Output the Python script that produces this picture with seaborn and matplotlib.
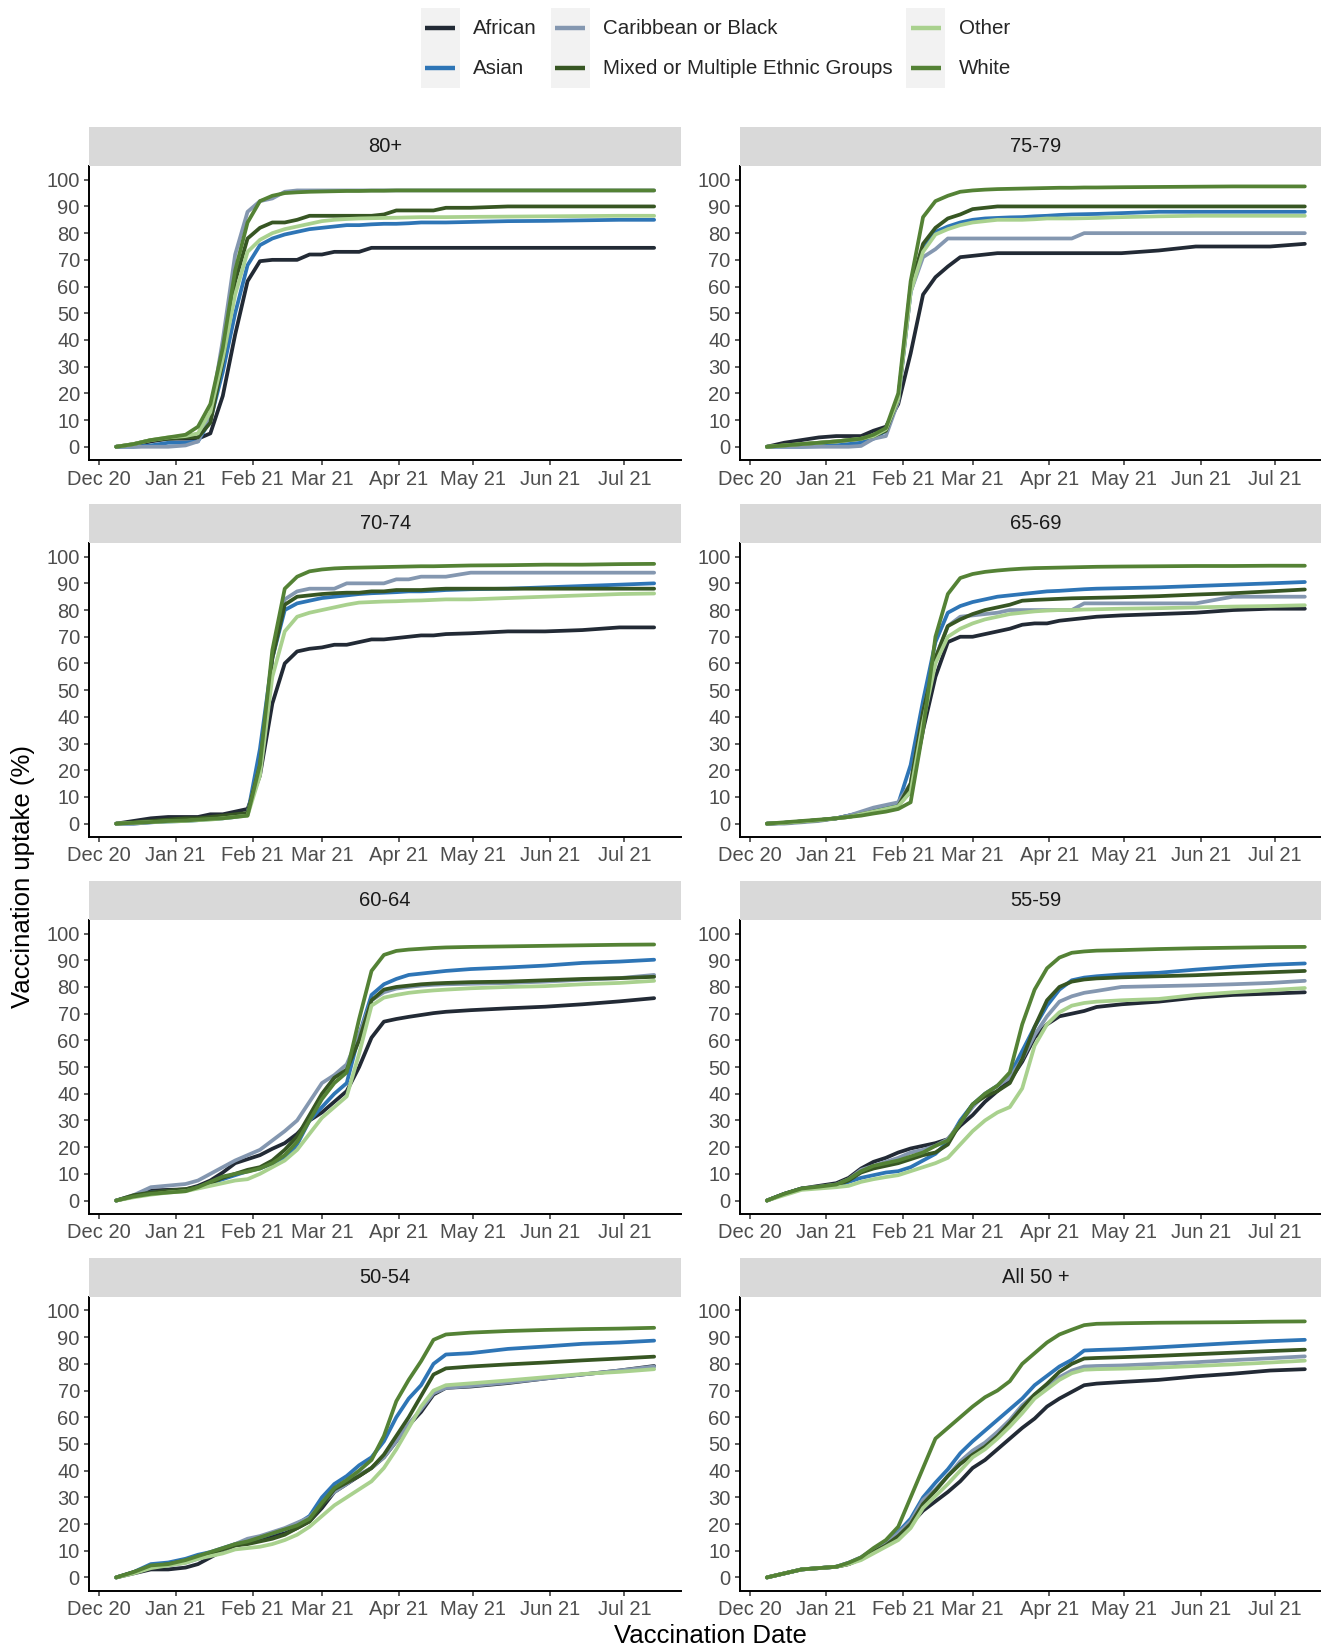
import numpy as np
import pandas as pd
import matplotlib
matplotlib.use("Agg")
import matplotlib.pyplot as plt
import matplotlib.dates as mdates
import seaborn as sns
from matplotlib.legend_handler import HandlerBase
from matplotlib.patches import Rectangle
from matplotlib.lines import Line2D

sns.set_style("white")
plt.rcParams['font.family'] = ['Liberation Sans', 'DejaVu Sans']

# ---------------- data ----------------
dates = ["2020-12-08", "2020-12-15", "2020-12-22", "2020-12-29", "2021-01-05", "2021-01-10",
         "2021-01-15", "2021-01-20", "2021-01-25", "2021-01-30", "2021-02-04", "2021-02-09",
         "2021-02-14", "2021-02-19", "2021-02-24", "2021-03-01", "2021-03-06", "2021-03-11",
         "2021-03-16", "2021-03-21", "2021-03-26", "2021-03-31", "2021-04-05", "2021-04-10",
         "2021-04-15", "2021-04-20", "2021-04-30", "2021-05-15", "2021-05-30", "2021-06-14",
         "2021-06-29", "2021-07-13"]

groups = ["African", "Asian", "Caribbean or Black", "Mixed or Multiple Ethnic Groups", "Other", "White"]
colors = ["#222A35", "#2E75B6", "#8497B0", "#375623", "#A9D18E", "#548235"]
panels = ["80+", "75-79", "70-74", "65-69", "60-64", "55-59", "50-54", "All 50 +"]

uptake_80 = {
    "African": [0, 0.5, 2, 3, 3, 3, 5, 19, 42, 62, 69.5, 70, 70, 70, 72, 72, 73, 73, 73, 74.5,
                74.5, 74.5, 74.5, 74.5, 74.5, 74.5, 74.5, 74.5, 74.5, 74.5, 74.5, 74.5],
    "Asian": [0, 0, 0.5, 1.5, 1.5, 2, 10, 28, 50, 68, 75.5, 78, 79.5, 80.5, 81.5, 82, 82.5, 83, 83, 83.3,
              83.5, 83.5, 83.7, 84, 84, 84, 84.2, 84.5, 84.6, 84.8, 85, 85],
    "Caribbean or Black": [0, 0, 0, 0, 0.5, 2, 12, 40, 72, 88, 92, 93, 95.5, 96, 96, 96, 96, 96, 96, 96,
                           96, 96, 96, 96, 96, 96, 96, 96, 96, 96, 96, 96],
    "Mixed or Multiple Ethnic Groups": [0, 1, 2.5, 3, 3.5, 3.5, 9, 32, 62, 78, 82, 84, 84, 85, 86.5, 86.5, 86.5, 86.5, 86.5, 86.5,
                                        87, 88.5, 88.5, 88.5, 88.5, 89.5, 89.5, 90, 90, 90, 90, 90],
    "Other": [0, 1, 2.5, 3.5, 4, 5, 13, 33, 57, 73, 77.5, 80, 81.5, 82.5, 83.5, 84.5, 85, 85.3, 85.5, 85.6,
              85.7, 85.8, 85.9, 86, 86, 86, 86.1, 86.2, 86.3, 86.4, 86.5, 86.5],
    "White": [0, 1, 2.5, 3.5, 4.5, 7.5, 16, 37, 66, 84, 92, 94, 95, 95.3, 95.5, 95.6, 95.7, 95.8, 95.8, 95.9,
              95.9, 96, 96, 96, 96, 96, 96, 96, 96, 96, 96, 96],
}

uptake_75 = {
    "African": [0, 1.5, 2.5, 3.5, 4, 4, 4, 6, 7.5, 16, 35, 57, 63.5, 67.5, 71, 71.5, 72, 72.5, 72.5, 72.5,
                72.5, 72.5, 72.5, 72.5, 72.5, 72.5, 72.5, 73.5, 75, 75, 75, 76],
    "Asian": [0, 0, 0, 0.2, 0.5, 1, 1.5, 3, 6, 18, 58, 74, 80.5, 82.5, 84, 85, 85.5, 85.7, 85.9, 86,
              86.3, 86.5, 86.8, 87, 87.1, 87.2, 87.5, 88, 88, 88, 88, 88],
    "Caribbean or Black": [0, 0, 0, 0, 0, 0, 0.3, 3, 4, 17, 58, 71, 74, 78, 78, 78, 78, 78, 78, 78,
                           78, 78, 78, 78, 80, 80, 80, 80, 80, 80, 80, 80],
    "Mixed or Multiple Ethnic Groups": [0, 0.5, 1, 1.5, 2, 2.5, 3, 4, 6, 18, 60, 76, 82, 85.5, 87, 89, 89.5, 90, 90, 90,
                                        90, 90, 90, 90, 90, 90, 90, 90, 90, 90, 90, 90],
    "Other": [0, 0.5, 1, 1.5, 2, 2.5, 3, 4, 6.5, 18, 58, 73, 79.5, 81.5, 83, 84, 84.5, 85, 85, 85,
              85.2, 85.5, 85.5, 85.5, 85.6, 85.7, 86, 86.3, 86.5, 86.5, 86.5, 86.5],
    "White": [0, 0.5, 1, 1.5, 2, 2.5, 3, 4.5, 7, 20, 62, 86, 92, 94, 95.5, 96, 96.3, 96.5, 96.6, 96.7,
              96.8, 96.9, 97, 97, 97.1, 97.1, 97.2, 97.3, 97.4, 97.5, 97.5, 97.5],
}

uptake_70 = {
    "African": [0, 1, 2, 2.5, 2.5, 2.5, 3.5, 3.5, 4.5, 5.5, 18, 45, 60, 64.5, 65.5, 66, 67, 67, 68, 69,
                69, 69.5, 70, 70.5, 70.5, 71, 71.3, 72, 72, 72.5, 73.5, 73.5],
    "Asian": [0, 0, 0.5, 0.8, 1, 1.3, 1.7, 2, 2.5, 3.5, 28, 62, 80, 82.5, 83.5, 84.5, 85, 85.5, 86, 86.3,
              86.5, 86.7, 87, 87, 87.2, 87.5, 87.8, 88, 88.5, 89, 89.5, 90],
    "Caribbean or Black": [0, 0, 0.5, 1, 1, 1.5, 2, 2.5, 3, 4, 22, 62, 84, 87, 88, 88, 88, 90, 90, 90,
                           90, 91.5, 91.5, 92.5, 92.5, 92.5, 94, 94, 94, 94, 94, 94],
    "Mixed or Multiple Ethnic Groups": [0, 0.5, 1, 1.5, 2, 2, 2.5, 3, 3.5, 4, 22, 62, 82, 85, 85.5, 86, 86.3, 86.5, 86.5, 87,
                                        87, 87.5, 87.5, 87.5, 87.8, 88, 88, 88, 88, 88, 88, 88],
    "Other": [0, 0.3, 0.6, 0.8, 1, 1.3, 1.5, 2, 2.5, 3, 18, 55, 72, 77.5, 79, 80, 81, 82, 82.8, 83,
              83.2, 83.3, 83.5, 83.6, 83.8, 84, 84, 84.5, 85, 85.5, 86, 86.2],
    "White": [0, 0.3, 0.6, 1, 1.2, 1.5, 1.8, 2, 2.5, 3, 22, 65, 88, 92.5, 94.5, 95.2, 95.6, 95.8, 95.9, 96,
              96.1, 96.2, 96.3, 96.4, 96.4, 96.5, 96.7, 96.8, 97, 97, 97.2, 97.3],
}

uptake_65 = {
    "African": [0, 0.3, 0.8, 1.3, 2, 3, 4, 5, 6, 7, 12, 35, 55, 68, 70, 70, 71, 72, 73, 74.5,
                75, 75, 76, 76.5, 77, 77.5, 78, 78.5, 79, 80, 80.5, 80.5],
    "Asian": [0, 0.3, 0.8, 1.3, 2, 3, 4, 5.5, 6.5, 7.5, 22, 46, 68, 79, 81.5, 83, 84, 85, 85.5, 86,
              86.5, 87, 87.2, 87.5, 87.8, 88, 88.2, 88.5, 89, 89.5, 90, 90.5],
    "Caribbean or Black": [0, 0, 0.5, 1, 2, 3, 4.5, 6, 7, 8, 15, 42, 62, 74, 77.5, 78, 78.5, 79, 80, 80,
                           80, 80, 80, 80, 82.5, 82.5, 82.5, 82.5, 82.5, 85, 85, 85],
    "Mixed or Multiple Ethnic Groups": [0, 0.3, 0.8, 1.3, 2, 2.5, 3.5, 4.5, 5.5, 6.5, 15, 42, 62, 74, 76.5, 78.5, 80, 81, 82, 83.5,
                                        83.8, 84, 84.2, 84.4, 84.5, 84.6, 84.8, 85.2, 85.8, 86.3, 87, 87.7],
    "Other": [0, 0.3, 0.8, 1.3, 2, 2.5, 3.5, 4.5, 5.5, 6.5, 12, 38, 60, 70, 73, 75, 76.5, 77.5, 78.5, 79,
              79.5, 79.8, 80, 80, 80.2, 80.3, 80.5, 80.7, 81, 81.3, 81.5, 81.8],
    "White": [0, 0.5, 1, 1.5, 2, 2.5, 3, 3.8, 4.5, 5.5, 8, 35, 70, 86, 92, 93.5, 94.3, 94.8, 95.2, 95.5,
              95.7, 95.8, 95.9, 96, 96.1, 96.2, 96.3, 96.4, 96.5, 96.5, 96.6, 96.6],
}

uptake_60 = {
    "African": [0, 1.5, 3.8, 4, 4.2, 5.5, 7.5, 10.5, 14, 15.5, 17, 19.4, 21.5, 25, 30, 33, 37, 41, 50, 61,
                67, 68, 68.8, 69.5, 70.2, 70.7, 71.3, 72, 72.6, 73.5, 74.6, 75.8],
    "Asian": [0, 1.8, 3, 3.5, 4, 5, 6.5, 8, 9.5, 11, 12, 14, 15.5, 21, 30, 35, 40, 44, 62, 77,
              81, 83, 84.5, 85, 85.5, 86, 86.7, 87.3, 88, 89, 89.5, 90.2],
    "Caribbean or Black": [0, 2, 5, 5.6, 6.2, 7.5, 10, 12.5, 15, 17, 19, 22.5, 26, 30, 37, 44, 47, 51, 62, 75,
                           78, 79.4, 80, 80.5, 80.8, 81, 81.2, 81.5, 82, 82.7, 83.3, 84.5],
    "Mixed or Multiple Ethnic Groups": [0, 2, 3, 3.7, 4.3, 5, 6.5, 8.5, 10, 11.5, 12.5, 15, 19, 24, 32, 40, 46, 49, 60, 75,
                                        79, 80, 80.5, 81, 81.3, 81.5, 81.8, 82, 82.5, 83, 83.3, 83.8],
    "Other": [0, 1.2, 2.2, 3, 3.5, 4.5, 5.5, 6.5, 7.5, 8, 10, 12.5, 15, 19, 25, 31, 35, 39, 55, 73,
              76, 77, 77.8, 78.3, 78.7, 79, 79.5, 80, 80.3, 81, 81.5, 82.3],
    "White": [0, 1.5, 2.5, 3, 3.5, 5, 7, 9, 10, 10.8, 12, 14, 17, 22, 30, 38, 44, 48, 68, 86,
              92, 93.5, 94, 94.3, 94.6, 94.8, 95, 95.2, 95.4, 95.6, 95.8, 95.9],
}

uptake_55 = {
    "African": [0, 2.5, 4.5, 5.5, 6.5, 8.5, 12, 14.5, 16, 18, 19.5, 20.5, 21.5, 23, 28, 32, 37, 41, 45, 52,
                61, 66, 69, 70, 71, 72.5, 73.5, 74.5, 76, 77, 77.5, 78],
    "Asian": [0, 2.5, 4.5, 5, 5.5, 7, 8.5, 9.5, 10.5, 11, 12.5, 15, 17.5, 22, 30, 36, 40, 43, 47, 56,
              65, 73, 79, 82.5, 83.5, 84, 84.7, 85.3, 86.5, 87.5, 88.3, 88.8],
    "Caribbean or Black": [0, 2.5, 4.5, 5.2, 6, 8, 11.5, 13, 14.5, 16, 18, 19, 20.5, 23, 29, 35, 40, 43, 46, 53,
                           62, 69, 74.5, 76.5, 77.8, 78.5, 80, 80.3, 80.6, 81, 81.5, 82.3],
    "Mixed or Multiple Ethnic Groups": [0, 2.5, 4.5, 5, 5.7, 7.5, 10.5, 12, 13, 14, 15.5, 17, 18, 21, 29, 36, 39, 41, 44, 53,
                                        65, 75, 80, 82, 82.8, 83.2, 83.6, 84, 84.4, 85, 85.5, 86],
    "Other": [0, 2, 4, 4.5, 5, 5.5, 7, 8, 8.8, 9.5, 11, 12.5, 14, 16, 21, 26, 30, 33, 35, 42,
              58, 66, 70.5, 73, 74, 74.5, 75, 75.5, 77, 78, 78.8, 79.6],
    "White": [0, 2.5, 4.5, 5.2, 6, 8, 11, 13, 14, 15, 16.5, 18, 20.5, 22.5, 29, 36, 40, 43, 48, 66,
              79, 87, 91, 92.8, 93.3, 93.6, 93.8, 94.2, 94.5, 94.7, 94.9, 95],
}

uptake_50 = {
    "African": [0, 1.5, 3, 3, 3.7, 5, 7.5, 10, 12, 13, 14, 15.5, 16.5, 18.5, 21, 26, 32, 35, 38, 41,
                45, 51, 57, 62, 68.5, 71, 71.5, 72.8, 74.5, 76, 77.5, 79.2],
    "Asian": [0, 2, 5, 5.6, 7, 8.5, 9.5, 11, 12.5, 13.5, 15, 16.5, 18, 20, 23, 30, 35, 38, 42, 45,
              51, 60, 67, 72, 80, 83.5, 84, 85.6, 86.5, 87.5, 88, 88.7],
    "Caribbean or Black": [0, 1.8, 4, 4.5, 5.5, 7, 8.5, 10.5, 12.5, 14.5, 15.5, 17, 18.5, 20.5, 22.5, 27.5, 32, 35, 38.5, 41,
                           45, 51, 57.5, 63, 69, 71, 71.7, 73, 74.5, 76, 77.5, 79],
    "Mixed or Multiple Ethnic Groups": [0, 2, 4, 5, 6.3, 7.5, 9, 10.5, 12, 12.5, 13.5, 14.5, 16, 18.5, 21, 27, 33, 35.5, 38, 41,
                                        46, 53, 60, 68, 76, 78.3, 79, 79.8, 80.5, 81.3, 82, 82.7],
    "Other": [0, 1.5, 3.5, 4.5, 5.5, 7, 8, 9, 10.5, 11, 11.5, 12.5, 14, 16, 19, 23, 27, 30, 33, 36,
              41, 48, 56, 64, 70, 72, 72.7, 73.8, 75, 76.2, 77, 78],
    "White": [0, 2, 4.5, 5, 6.5, 8, 9.5, 11, 12.5, 13.5, 15, 16.5, 18, 19.5, 22, 28, 33.5, 36.5, 40, 44,
              53, 66, 74, 81, 89, 91, 91.7, 92.3, 92.7, 93, 93.2, 93.5],
}

uptake_all = {
    "African": [0, 1.5, 3, 3.5, 4, 5, 7, 9.5, 12, 15.5, 20, 25, 28.5, 32, 36, 41, 44, 48, 52, 56,
                59.5, 64, 67, 69.5, 72, 72.6, 73.2, 74, 75.3, 76.3, 77.5, 78],
    "Asian": [0, 1.5, 3, 3.5, 4, 5.5, 7.5, 10.5, 13, 17, 22, 30, 35.5, 40.5, 46.5, 51, 55, 59, 63, 67,
              72, 75.5, 79, 81.5, 85, 85.2, 85.5, 86.2, 87, 87.8, 88.5, 89],
    "Caribbean or Black": [0, 1.5, 3, 3.5, 4, 5.5, 7.5, 10.5, 13, 16.5, 21, 29, 33, 38, 43.5, 47.5, 50.5, 54.5, 59, 64.5,
                           68.5, 72, 75, 77.5, 79, 79.2, 79.4, 80, 80.6, 81.4, 82.1, 82.8],
    "Mixed or Multiple Ethnic Groups": [0, 1.5, 3, 3.5, 4, 5, 7, 9.5, 12, 15.5, 20, 27.5, 32.5, 38, 42.5, 46, 49, 53, 58, 63.5,
                                        68.5, 72.5, 77, 80, 82, 82.2, 82.5, 83, 83.6, 84.2, 84.8, 85.3],
    "Other": [0, 1.5, 3, 3.5, 4, 5, 6.5, 9, 11.5, 14, 18.5, 26, 30.5, 35, 40, 45, 48, 52, 56.5, 61.5,
              67, 70.5, 74, 76.5, 77.8, 78, 78.2, 78.6, 79.2, 79.8, 80.5, 81.2],
    "White": [0, 1.5, 3, 3.5, 4, 5.5, 7.5, 11, 14, 19, 30, 41, 52, 56, 60, 64, 67.5, 70, 73.5, 80,
              84, 88, 91, 92.8, 94.5, 95, 95.2, 95.4, 95.5, 95.6, 95.8, 95.9],
}

panel_data = [uptake_80, uptake_75, uptake_70, uptake_65, uptake_60, uptake_55, uptake_50, uptake_all]

rows = []
for pname, pdict in zip(panels, panel_data):
    for g in groups:
        for d, v in zip(dates, pdict[g]):
            rows.append((pname, g, d, v))
df = pd.DataFrame(rows, columns=["panel", "group", "date", "uptake"])
df["date"] = pd.to_datetime(df["date"])
palette = dict(zip(groups, colors))

# ---------------- layout ----------------
W, H = 1321, 1648
fig = plt.figure(figsize=(W / 100, H / 100), dpi=100)
col_x = [89.3, 740.0]
ax_w = 591.7
row_top0 = 166.4
row_step = 376.9
ax_h = 293.7
strip_h = 39.0
FS = 14.5
LW = 2.7

xmin = pd.Timestamp("2020-11-27 04:00")
xmax = pd.Timestamp("2021-07-23 20:00")

for i, pname in enumerate(panels):
    r, c = divmod(i, 2)
    top = row_top0 + r * row_step
    ax = fig.add_axes([col_x[c] / W, 1 - (top + ax_h) / H, ax_w / W, ax_h / H])
    sub = df[df["panel"] == pname]
    sns.lineplot(data=sub, x="date", y="uptake", hue="group", hue_order=groups,
                 palette=palette, linewidth=LW, legend=False, ax=ax, estimator=None)
    ax.set_xlim(xmin, xmax)
    ax.set_ylim(-5, 105)
    ax.set_yticks(np.arange(0, 101, 10))
    ax.xaxis.set_major_locator(mdates.MonthLocator())
    ax.xaxis.set_major_formatter(mdates.DateFormatter("%b %y"))
    ax.set_xlabel("")
    ax.set_ylabel("")
    for s in ["top", "right"]:
        ax.spines[s].set_visible(False)
    for s in ["left", "bottom"]:
        ax.spines[s].set_color("black")
        ax.spines[s].set_linewidth(1.4)
    ax.tick_params(axis="both", direction="out", length=3.8, width=1.1, color="#333333",
                   labelsize=FS, labelcolor="#4D4D4D", pad=3)
    ax.tick_params(axis="y", left=True)
    ax.tick_params(axis="x", bottom=True)
    ax.grid(False)

    sax = fig.add_axes([col_x[c] / W, 1 - top / H, ax_w / W, strip_h / H])
    sax.set_facecolor("#D9D9D9")
    sax.set_xticks([])
    sax.set_yticks([])
    for s in sax.spines.values():
        s.set_visible(False)
    sax.text(0.5, 0.5, pname, ha="center", va="center", fontsize=FS, color="#1A1A1A",
             transform=sax.transAxes)

fig.text(710 / W, 1 - 1636 / H, "Vaccination Date", ha="center", va="center", fontsize=18.5, color="black")
fig.text(23 / W, 1 - 877 / H, "Vaccination uptake (%)", ha="center", va="center", rotation=90,
         fontsize=18.5, color="black")


class KeyHandler(HandlerBase):
    def create_artists(self, legend, orig_handle, xdescent, ydescent, width, height, fontsize, trans):
        bg = Rectangle((-xdescent, -ydescent), width, height, facecolor="#F2F2F2",
                       edgecolor="none", transform=trans)
        yc = -ydescent + height / 2
        ln = Line2D([-xdescent + 0.11 * width, -xdescent + 0.89 * width], [yc, yc],
                    color=orig_handle.get_color(), linewidth=orig_handle.get_linewidth(),
                    solid_capstyle="butt", transform=trans)
        return [bg, ln]


handles = [Line2D([], [], color=palette[g], linewidth=3.2) for g in groups]
fig.legend(handles, groups, handler_map={Line2D: KeyHandler()}, loc="upper center",
           bbox_to_anchor=(0.542, 0.995), ncol=3, frameon=False, fontsize=14.8,
           handlelength=1.9, handleheight=2.6, handletextpad=0.66, columnspacing=0.66,
           labelspacing=0.0, borderpad=0, borderaxespad=0)

fig.savefig("out.png", dpi=100)
